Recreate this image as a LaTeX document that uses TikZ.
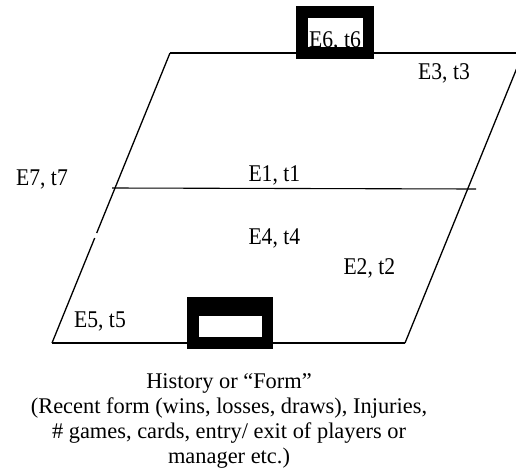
\documentclass[tikz,border=0pt]{standalone}
\usepackage{fontspec}
\setmainfont{Liberation Serif}
\newfontfamily\lblfont[FakeStretch=0.9]{Liberation Serif}
\tikzset{
  edge/.style={line width=1.3pt},
  lbl/.style={anchor=base west, inner sep=0pt, font=\lblfont\fontsize{24}{28}\selectfont},
  caption/.style={anchor=base, inner sep=0pt, font=\fontsize{22.4}{25}\selectfont},
  frame/.style={fill=black, inner sep=0pt, draw=none},
  hole/.style={fill=white, inner sep=0pt, draw=none},
}
\begin{document}
\begin{tikzpicture}[x=1pt, y=-1pt]
\useasboundingbox (0,0) rectangle (516,474);

% corners of the pitch
\coordinate (tl) at (170,53);
\coordinate (tr) at (523,53);
\coordinate (bl) at (52,343);
\coordinate (br) at (405,343);
% small break in the left touch line
\coordinate (gapa) at (96.7,233);
\coordinate (gapb) at (94.7,238);
% half-way line ends
\coordinate (mida) at (112,188);
\coordinate (midb) at (476,189);

\draw[edge] (tl) -- (tr);
\draw[edge] (tr) -- (br);
\draw[edge] (br) -- (bl);
\draw[edge] (bl) -- (gapb);
\draw[edge] (gapa) -- (tl);
\draw[line width=1.1pt] (mida) -- (midb);

% goals
\node[frame, minimum width=78pt, minimum height=53pt] (goaltop) at (335,32.5) {};
\node[hole, minimum width=55.3pt, minimum height=28.4pt] (goaltopin) at (335.65,32.5) {};
\node[frame, minimum width=86pt, minimum height=52pt] (goalbot) at (230.3,323.3) {};
\node[hole, minimum width=62.4pt, minimum height=21.6pt] (goalbotin) at (230.5,326.5) {};

% event labels
\node[lbl] (e6) at (309,47.7) {E6, t6};
\node[lbl] (e3) at (418,79) {E3, t3};
\node[lbl] (e7) at (16,185) {E7, t7};
\node[lbl] (e1) at (248.3,181) {E1, t1};
\node[lbl] (e4) at (248.3,244.3) {E4, t4};
\node[lbl] (e2) at (343.3,274.5) {E2, t2};
\node[lbl] (e5) at (74,327) {E5, t5};

% caption
\node[caption] (cap1) at (229,388) {History or “Form”};
\node[caption] (cap2) at (229,413) {(Recent form (wins, losses, draws), Injuries,};
\node[caption] (cap3) at (229,438) {\# games, cards, entry/ exit of players or};
\node[caption] (cap4) at (229,463) {manager etc.)};
\end{tikzpicture}
\end{document}
